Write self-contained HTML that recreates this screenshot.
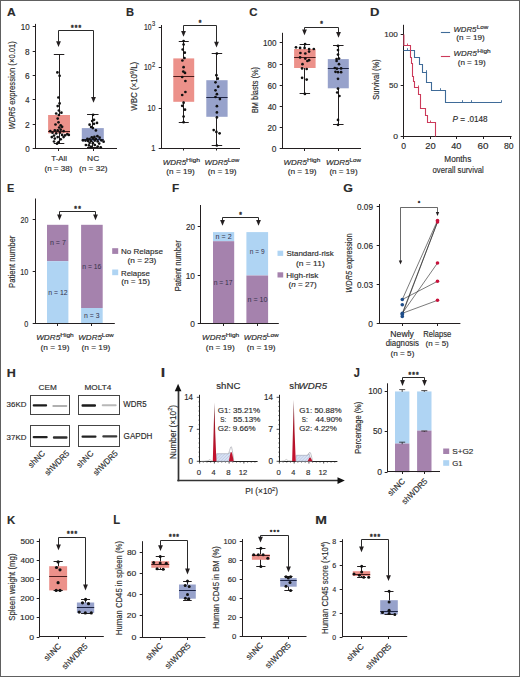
<!DOCTYPE html><html><head><meta charset="utf-8"><style>html,body{margin:0;padding:0;background:#fff;}svg{display:block;font-family:"Liberation Sans",sans-serif;}text{fill:#2b2b2b;stroke:#2b2b2b;stroke-width:0.15px;}.i{font-style:italic;}</style></head><body>
<svg width="520" height="677" viewBox="0 0 520 677">
<rect x="0.5" y="0.5" width="519" height="676" fill="#fff" stroke="#606060" stroke-width="1"/>
<text x="6.9" y="15.8" font-size="11.19" font-weight="bold" textLength="8.72" lengthAdjust="spacingAndGlyphs">A</text>
<line x1="35.5" y1="23.9" x2="35.5" y2="149" stroke="#231f20" stroke-width="1"/>
<line x1="32.7" y1="148.5" x2="35.5" y2="148.5" stroke="#231f20" stroke-width="1"/>
<text x="25.14" y="151.51" font-size="8.5" textLength="4.48" lengthAdjust="spacingAndGlyphs">0</text>
<line x1="32.7" y1="124.5" x2="35.5" y2="124.5" stroke="#231f20" stroke-width="1"/>
<text x="25.02" y="127.51" font-size="8.5" textLength="4.7" lengthAdjust="spacingAndGlyphs">2</text>
<line x1="32.7" y1="99.5" x2="35.5" y2="99.5" stroke="#231f20" stroke-width="1"/>
<text x="25.27" y="102.51" font-size="8.5" textLength="4.25" lengthAdjust="spacingAndGlyphs">4</text>
<line x1="32.7" y1="75.5" x2="35.5" y2="75.5" stroke="#231f20" stroke-width="1"/>
<text x="25.03" y="78.51" font-size="8.5" textLength="4.64" lengthAdjust="spacingAndGlyphs">6</text>
<line x1="32.7" y1="51.5" x2="35.5" y2="51.5" stroke="#231f20" stroke-width="1"/>
<text x="25.09" y="54.51" font-size="8.5" textLength="4.56" lengthAdjust="spacingAndGlyphs">8</text>
<line x1="32.7" y1="26.5" x2="35.5" y2="26.5" stroke="#231f20" stroke-width="1"/>
<text x="20.69" y="29.51" font-size="8.5" textLength="8.92" lengthAdjust="spacingAndGlyphs">10</text>
<line x1="35" y1="148.5" x2="117" y2="148.5" stroke="#231f20" stroke-width="1"/>
<line x1="58.5" y1="148.5" x2="58.5" y2="151" stroke="#231f20" stroke-width="1"/>
<line x1="93.5" y1="148.5" x2="93.5" y2="151" stroke="#231f20" stroke-width="1"/>
<line x1="59.5" y1="54.1" x2="59.5" y2="143.3" stroke="#231f20" stroke-width="1"/>
<rect x="48.1" y="115" width="21.9" height="18.4" fill="#ec918a"/>
<line x1="53.8" y1="54.5" x2="64.3" y2="54.5" stroke="#231f20" stroke-width="1"/>
<line x1="53.8" y1="143.5" x2="64.3" y2="143.5" stroke="#231f20" stroke-width="1"/>
<line x1="48.1" y1="131.5" x2="70" y2="131.5" stroke="#4a1c1c" stroke-width="1"/>
<circle cx="57.4" cy="72.4" r="1.35" fill="#111"/>
<circle cx="59.6" cy="75.8" r="1.35" fill="#111"/>
<circle cx="58.4" cy="97.5" r="1.35" fill="#111"/>
<circle cx="59.6" cy="103.4" r="1.35" fill="#111"/>
<circle cx="57.7" cy="106.1" r="1.35" fill="#111"/>
<circle cx="58.9" cy="110.5" r="1.35" fill="#111"/>
<circle cx="56.2" cy="113.5" r="1.35" fill="#111"/>
<circle cx="61.4" cy="112.7" r="1.35" fill="#111"/>
<circle cx="58.9" cy="115" r="1.35" fill="#111"/>
<circle cx="57.7" cy="118.6" r="1.35" fill="#111"/>
<circle cx="58.5" cy="122.3" r="1.35" fill="#111"/>
<circle cx="55.5" cy="124.5" r="1.35" fill="#111"/>
<circle cx="60.7" cy="125.3" r="1.35" fill="#111"/>
<circle cx="59.2" cy="127.5" r="1.35" fill="#111"/>
<circle cx="62.1" cy="126.8" r="1.35" fill="#111"/>
<circle cx="54.8" cy="130.4" r="1.35" fill="#111"/>
<circle cx="50.3" cy="131.2" r="1.35" fill="#111"/>
<circle cx="57.7" cy="130.4" r="1.35" fill="#111"/>
<circle cx="60.7" cy="129.7" r="1.35" fill="#111"/>
<circle cx="63.6" cy="131.2" r="1.35" fill="#111"/>
<circle cx="52.5" cy="132.7" r="1.35" fill="#111"/>
<circle cx="56.2" cy="133.4" r="1.35" fill="#111"/>
<circle cx="59.9" cy="132.7" r="1.35" fill="#111"/>
<circle cx="67.3" cy="134.1" r="1.35" fill="#111"/>
<circle cx="54" cy="135.6" r="1.35" fill="#111"/>
<circle cx="62.1" cy="134.9" r="1.35" fill="#111"/>
<circle cx="65.1" cy="135.3" r="1.35" fill="#111"/>
<circle cx="68.8" cy="134.9" r="1.35" fill="#111"/>
<circle cx="51.8" cy="137.1" r="1.35" fill="#111"/>
<circle cx="57.7" cy="137.1" r="1.35" fill="#111"/>
<circle cx="63.6" cy="137.1" r="1.35" fill="#111"/>
<circle cx="54.8" cy="138.6" r="1.35" fill="#111"/>
<circle cx="60.7" cy="139.3" r="1.35" fill="#111"/>
<circle cx="54" cy="141.5" r="1.35" fill="#111"/>
<circle cx="58.5" cy="142.2" r="1.35" fill="#111"/>
<circle cx="57" cy="143.7" r="1.35" fill="#111"/>
<line x1="92.5" y1="114.8" x2="92.5" y2="147.5" stroke="#231f20" stroke-width="1"/>
<rect x="81.8" y="128.1" width="22" height="13.3" fill="#97a2cb"/>
<line x1="87.05" y1="114.5" x2="98.55" y2="114.5" stroke="#231f20" stroke-width="1"/>
<line x1="87.05" y1="147.5" x2="98.55" y2="147.5" stroke="#231f20" stroke-width="1"/>
<line x1="81.8" y1="139.5" x2="103.8" y2="139.5" stroke="#1c2444" stroke-width="1"/>
<circle cx="93.1" cy="114.8" r="1.35" fill="#111"/>
<circle cx="94" cy="119.8" r="1.35" fill="#111"/>
<circle cx="92.2" cy="121" r="1.35" fill="#111"/>
<circle cx="97" cy="122.9" r="1.35" fill="#111"/>
<circle cx="94" cy="123.8" r="1.35" fill="#111"/>
<circle cx="89.6" cy="124.7" r="1.35" fill="#111"/>
<circle cx="91.1" cy="127" r="1.35" fill="#111"/>
<circle cx="92.9" cy="128.1" r="1.35" fill="#111"/>
<circle cx="95.9" cy="130.4" r="1.35" fill="#111"/>
<circle cx="97.4" cy="136.2" r="1.35" fill="#111"/>
<circle cx="91.8" cy="137.3" r="1.35" fill="#111"/>
<circle cx="94.4" cy="136.9" r="1.35" fill="#111"/>
<circle cx="99.6" cy="137.7" r="1.35" fill="#111"/>
<circle cx="87.4" cy="138.8" r="1.35" fill="#111"/>
<circle cx="89.6" cy="139.1" r="1.35" fill="#111"/>
<circle cx="93.3" cy="138.4" r="1.35" fill="#111"/>
<circle cx="95.9" cy="139" r="1.35" fill="#111"/>
<circle cx="83" cy="140.3" r="1.35" fill="#111"/>
<circle cx="85.5" cy="140.6" r="1.35" fill="#111"/>
<circle cx="88.1" cy="141" r="1.35" fill="#111"/>
<circle cx="91.1" cy="141" r="1.35" fill="#111"/>
<circle cx="94.8" cy="140.6" r="1.35" fill="#111"/>
<circle cx="97.7" cy="141.4" r="1.35" fill="#111"/>
<circle cx="101.4" cy="140.3" r="1.35" fill="#111"/>
<circle cx="103.6" cy="141.7" r="1.35" fill="#111"/>
<circle cx="89.6" cy="142.8" r="1.35" fill="#111"/>
<circle cx="92.9" cy="143.2" r="1.35" fill="#111"/>
<circle cx="99.2" cy="143.6" r="1.35" fill="#111"/>
<circle cx="85.9" cy="145" r="1.35" fill="#111"/>
<circle cx="88.9" cy="145.4" r="1.35" fill="#111"/>
<circle cx="94.8" cy="145" r="1.35" fill="#111"/>
<circle cx="97.7" cy="146.5" r="1.35" fill="#111"/>
<circle cx="91.1" cy="146.9" r="1.35" fill="#111"/>
<circle cx="100.7" cy="147.3" r="1.35" fill="#111"/>
<path d="M58.5 41.7L58.5 30.5L93.5 30.5L93.5 97.5" stroke="#2a2a2a" stroke-width="1" fill="none"/>
<path d="M56.1 41.2L60.9 41.2L58.5 47Z" fill="#231f20"/>
<path d="M91.1 97L95.9 97L93.5 102.8Z" fill="#231f20"/>
<text x="72.25" y="29.61" font-size="6.6" font-weight="bold" text-anchor="middle" style="stroke-width:0.35px">*</text>
<text x="76" y="29.61" font-size="6.6" font-weight="bold" text-anchor="middle" style="stroke-width:0.35px">*</text>
<text x="79.75" y="29.61" font-size="6.6" font-weight="bold" text-anchor="middle" style="stroke-width:0.35px">*</text>
<text transform="translate(15.2 129.53) rotate(-90)" x="0" y="0" font-size="8.6" textLength="88.41" lengthAdjust="spacingAndGlyphs"><tspan font-style="italic">WDR5</tspan> expression (×0.01)</text>
<text x="51.33" y="161" font-size="7.9" textLength="15.68" lengthAdjust="spacingAndGlyphs">T-All</text>
<text x="44.5" y="171.1" font-size="7.9" textLength="27.9" lengthAdjust="spacingAndGlyphs">(n = 38)</text>
<text x="87.11" y="161.2" font-size="7.9" textLength="12.11" lengthAdjust="spacingAndGlyphs">NC</text>
<text x="78.99" y="171" font-size="7.9" textLength="28.62" lengthAdjust="spacingAndGlyphs">(n = 32)</text>
<text x="126.05" y="15.8" font-size="11.19" font-weight="bold" textLength="8.05" lengthAdjust="spacingAndGlyphs">B</text>
<line x1="161.5" y1="25" x2="161.5" y2="148.5" stroke="#231f20" stroke-width="1"/>
<line x1="158.7" y1="148.5" x2="161.5" y2="148.5" stroke="#231f20" stroke-width="1"/>
<line x1="158.7" y1="108.5" x2="161.5" y2="108.5" stroke="#231f20" stroke-width="1"/>
<line x1="158.7" y1="67.5" x2="161.5" y2="67.5" stroke="#231f20" stroke-width="1"/>
<line x1="158.7" y1="27.5" x2="161.5" y2="27.5" stroke="#231f20" stroke-width="1"/>
<text x="155.4" y="151.3" font-size="8.4" text-anchor="end" textLength="4.15" lengthAdjust="spacingAndGlyphs">1</text>
<text x="155.4" y="111" font-size="8.4" text-anchor="end" textLength="8" lengthAdjust="spacingAndGlyphs">10</text>
<text x="151.5" y="70.3" font-size="8.4" text-anchor="end" textLength="7.6" lengthAdjust="spacingAndGlyphs">10</text>
<text x="155.2" y="66.7" font-size="6.3" text-anchor="end" textLength="3.2" lengthAdjust="spacingAndGlyphs">2</text>
<text x="151.5" y="30" font-size="8.4" text-anchor="end" textLength="7.6" lengthAdjust="spacingAndGlyphs">10</text>
<text x="155.2" y="26.4" font-size="6.3" text-anchor="end" textLength="3.2" lengthAdjust="spacingAndGlyphs">3</text>
<line x1="161" y1="148.5" x2="240" y2="148.5" stroke="#231f20" stroke-width="1"/>
<line x1="183.5" y1="148" x2="183.5" y2="150.5" stroke="#231f20" stroke-width="1"/>
<line x1="216.5" y1="148" x2="216.5" y2="150.5" stroke="#231f20" stroke-width="1"/>
<line x1="183.5" y1="41" x2="183.5" y2="122.2" stroke="#231f20" stroke-width="1"/>
<rect x="173.3" y="58.4" width="20.9" height="43.4" fill="#ec918a"/>
<line x1="178.75" y1="41.5" x2="188.75" y2="41.5" stroke="#231f20" stroke-width="1"/>
<line x1="178.75" y1="122.5" x2="188.75" y2="122.5" stroke="#231f20" stroke-width="1"/>
<line x1="173.3" y1="76.5" x2="194.2" y2="76.5" stroke="#4a1c1c" stroke-width="1"/>
<circle cx="183.6" cy="41" r="1.35" fill="#111"/>
<circle cx="183.6" cy="44.5" r="1.35" fill="#111"/>
<circle cx="182.7" cy="49.5" r="1.35" fill="#111"/>
<circle cx="184.8" cy="52.7" r="1.35" fill="#111"/>
<circle cx="184.5" cy="58" r="1.35" fill="#111"/>
<circle cx="182.4" cy="60.5" r="1.35" fill="#111"/>
<circle cx="183.6" cy="67.2" r="1.35" fill="#111"/>
<circle cx="183.3" cy="71.6" r="1.35" fill="#111"/>
<circle cx="185" cy="72.9" r="1.35" fill="#111"/>
<circle cx="182.2" cy="77" r="1.35" fill="#111"/>
<circle cx="185.4" cy="81" r="1.35" fill="#111"/>
<circle cx="185.4" cy="92" r="1.35" fill="#111"/>
<circle cx="182.2" cy="95" r="1.35" fill="#111"/>
<circle cx="183.6" cy="102.7" r="1.35" fill="#111"/>
<circle cx="182.2" cy="105.8" r="1.35" fill="#111"/>
<circle cx="185" cy="109.7" r="1.35" fill="#111"/>
<circle cx="183.6" cy="116.5" r="1.35" fill="#111"/>
<circle cx="183.6" cy="122.2" r="1.35" fill="#111"/>
<line x1="216.5" y1="53.6" x2="216.5" y2="145.5" stroke="#231f20" stroke-width="1"/>
<rect x="206.3" y="80.2" width="21.3" height="36.6" fill="#97a2cb"/>
<line x1="211.7" y1="53.5" x2="222.2" y2="53.5" stroke="#231f20" stroke-width="1"/>
<line x1="211.7" y1="145.5" x2="222.2" y2="145.5" stroke="#231f20" stroke-width="1"/>
<line x1="206.3" y1="97.5" x2="227.6" y2="97.5" stroke="#1c2444" stroke-width="1"/>
<circle cx="216.9" cy="53.6" r="1.35" fill="#111"/>
<circle cx="216.4" cy="75.2" r="1.35" fill="#111"/>
<circle cx="217.8" cy="78.7" r="1.35" fill="#111"/>
<circle cx="215.5" cy="82.3" r="1.35" fill="#111"/>
<circle cx="218.2" cy="86.7" r="1.35" fill="#111"/>
<circle cx="215.5" cy="90.3" r="1.35" fill="#111"/>
<circle cx="216.9" cy="94.2" r="1.35" fill="#111"/>
<circle cx="215.5" cy="97" r="1.35" fill="#111"/>
<circle cx="219.9" cy="99.1" r="1.35" fill="#111"/>
<circle cx="216.9" cy="106.2" r="1.35" fill="#111"/>
<circle cx="216.9" cy="112.4" r="1.35" fill="#111"/>
<circle cx="216.9" cy="117.4" r="1.35" fill="#111"/>
<circle cx="213.7" cy="130.1" r="1.35" fill="#111"/>
<circle cx="216.4" cy="131.9" r="1.35" fill="#111"/>
<circle cx="219.6" cy="133.3" r="1.35" fill="#111"/>
<circle cx="216.9" cy="145.5" r="1.35" fill="#111"/>
<path d="M183.5 31.4L183.5 25.5L216.5 25.5L216.5 42.2" stroke="#2a2a2a" stroke-width="1" fill="none"/>
<path d="M181.1 30.9L185.9 30.9L183.5 36.7Z" fill="#231f20"/>
<path d="M214.1 41.7L218.9 41.7L216.5 47.5Z" fill="#231f20"/>
<text x="200" y="24.61" font-size="6.6" font-weight="bold" text-anchor="middle" style="stroke-width:0.35px">*</text>
<text transform="translate(137.4 110.83) rotate(-90)" x="0" y="0" font-size="9" textLength="49.11" lengthAdjust="spacingAndGlyphs">WBC (×10<tspan dy="-3.2" font-size="6">9</tspan><tspan dy="3.2">/L)</tspan></text>
<text x="162.71" y="165" font-size="8" font-style="italic" textLength="23.47" lengthAdjust="spacingAndGlyphs">WDR5</text>
<text x="186.14" y="161.7" font-size="5.3" textLength="14" lengthAdjust="spacingAndGlyphs">High</text>
<text x="166.39" y="174.3" font-size="7.6" textLength="28.31" lengthAdjust="spacingAndGlyphs">(n = 19)</text>
<text x="204.62" y="165" font-size="8" font-style="italic" textLength="23.26" lengthAdjust="spacingAndGlyphs">WDR5</text>
<text x="227.89" y="161.7" font-size="5.3" textLength="11.5" lengthAdjust="spacingAndGlyphs">Low</text>
<text x="207.68" y="174.2" font-size="7.6" textLength="28.93" lengthAdjust="spacingAndGlyphs">(n = 19)</text>
<text x="249.33" y="15.8" font-size="11.19" font-weight="bold" textLength="8.28" lengthAdjust="spacingAndGlyphs">C</text>
<line x1="282.5" y1="32.8" x2="282.5" y2="149" stroke="#231f20" stroke-width="1"/>
<line x1="279.7" y1="148.5" x2="282.5" y2="148.5" stroke="#231f20" stroke-width="1"/>
<text x="271.87" y="151.51" font-size="8.5" textLength="4.65" lengthAdjust="spacingAndGlyphs">0</text>
<line x1="279.7" y1="127.5" x2="282.5" y2="127.5" stroke="#231f20" stroke-width="1"/>
<text x="267.49" y="130.51" font-size="8.5" textLength="9.03" lengthAdjust="spacingAndGlyphs">20</text>
<line x1="279.7" y1="106.5" x2="282.5" y2="106.5" stroke="#231f20" stroke-width="1"/>
<text x="267.72" y="109.51" font-size="8.5" textLength="8.79" lengthAdjust="spacingAndGlyphs">40</text>
<line x1="279.7" y1="85.5" x2="282.5" y2="85.5" stroke="#231f20" stroke-width="1"/>
<text x="267.49" y="88.51" font-size="8.5" textLength="9.03" lengthAdjust="spacingAndGlyphs">60</text>
<line x1="279.7" y1="64.5" x2="282.5" y2="64.5" stroke="#231f20" stroke-width="1"/>
<text x="267.55" y="67.51" font-size="8.5" textLength="8.97" lengthAdjust="spacingAndGlyphs">80</text>
<line x1="279.7" y1="42.5" x2="282.5" y2="42.5" stroke="#231f20" stroke-width="1"/>
<text x="262.98" y="45.51" font-size="8.5" textLength="13.53" lengthAdjust="spacingAndGlyphs">100</text>
<line x1="282" y1="148.5" x2="361" y2="148.5" stroke="#231f20" stroke-width="1"/>
<line x1="304.5" y1="148.5" x2="304.5" y2="151" stroke="#231f20" stroke-width="1"/>
<line x1="338.5" y1="148.5" x2="338.5" y2="151" stroke="#231f20" stroke-width="1"/>
<line x1="304.5" y1="44.1" x2="304.5" y2="93.9" stroke="#231f20" stroke-width="1"/>
<rect x="294.1" y="49" width="21.5" height="19" fill="#ec918a"/>
<line x1="299.6" y1="44.5" x2="310.1" y2="44.5" stroke="#231f20" stroke-width="1"/>
<line x1="299.6" y1="93.5" x2="310.1" y2="93.5" stroke="#231f20" stroke-width="1"/>
<line x1="294.1" y1="57.5" x2="315.6" y2="57.5" stroke="#4a1c1c" stroke-width="1"/>
<circle cx="296" cy="47.3" r="1.35" fill="#111"/>
<circle cx="300.1" cy="47.9" r="1.35" fill="#111"/>
<circle cx="304.6" cy="47.9" r="1.35" fill="#111"/>
<circle cx="309.1" cy="49" r="1.35" fill="#111"/>
<circle cx="313.8" cy="49" r="1.35" fill="#111"/>
<circle cx="305.1" cy="44.1" r="1.35" fill="#111"/>
<circle cx="300.4" cy="53" r="1.35" fill="#111"/>
<circle cx="305.3" cy="53.5" r="1.35" fill="#111"/>
<circle cx="309.1" cy="51.6" r="1.35" fill="#111"/>
<circle cx="300.1" cy="57.4" r="1.35" fill="#111"/>
<circle cx="305.3" cy="58.6" r="1.35" fill="#111"/>
<circle cx="307.4" cy="61" r="1.35" fill="#111"/>
<circle cx="309.1" cy="60.2" r="1.35" fill="#111"/>
<circle cx="302.5" cy="64.2" r="1.35" fill="#111"/>
<circle cx="302.1" cy="68.4" r="1.35" fill="#111"/>
<circle cx="306.7" cy="69" r="1.35" fill="#111"/>
<circle cx="302.1" cy="77.8" r="1.35" fill="#111"/>
<circle cx="306.7" cy="79.6" r="1.35" fill="#111"/>
<circle cx="304.9" cy="93.9" r="1.35" fill="#111"/>
<line x1="338.5" y1="45.9" x2="338.5" y2="124.8" stroke="#231f20" stroke-width="1"/>
<rect x="327.8" y="59.1" width="21" height="29.2" fill="#97a2cb"/>
<line x1="333.05" y1="45.5" x2="343.55" y2="45.5" stroke="#231f20" stroke-width="1"/>
<line x1="333.05" y1="124.5" x2="343.55" y2="124.5" stroke="#231f20" stroke-width="1"/>
<line x1="327.8" y1="68.5" x2="348.8" y2="68.5" stroke="#1c2444" stroke-width="1"/>
<circle cx="338" cy="45.9" r="1.35" fill="#111"/>
<circle cx="338" cy="50.1" r="1.35" fill="#111"/>
<circle cx="338" cy="54.6" r="1.35" fill="#111"/>
<circle cx="336.6" cy="59.1" r="1.35" fill="#111"/>
<circle cx="339" cy="58.6" r="1.35" fill="#111"/>
<circle cx="336.6" cy="61" r="1.35" fill="#111"/>
<circle cx="339" cy="64.2" r="1.35" fill="#111"/>
<circle cx="334.8" cy="68" r="1.35" fill="#111"/>
<circle cx="336.9" cy="68.7" r="1.35" fill="#111"/>
<circle cx="341.1" cy="68.4" r="1.35" fill="#111"/>
<circle cx="335.5" cy="71.8" r="1.35" fill="#111"/>
<circle cx="338" cy="72.2" r="1.35" fill="#111"/>
<circle cx="341.1" cy="72.2" r="1.35" fill="#111"/>
<circle cx="338" cy="78.8" r="1.35" fill="#111"/>
<circle cx="338" cy="88.6" r="1.35" fill="#111"/>
<circle cx="337.2" cy="92.5" r="1.35" fill="#111"/>
<circle cx="339.4" cy="96" r="1.35" fill="#111"/>
<circle cx="338" cy="119.9" r="1.35" fill="#111"/>
<circle cx="338" cy="124.8" r="1.35" fill="#111"/>
<path d="M304.5 29.9L304.5 27.5L338.5 27.5L338.5 32.5" stroke="#2a2a2a" stroke-width="1" fill="none"/>
<path d="M302.1 29.4L306.9 29.4L304.5 35.2Z" fill="#231f20"/>
<path d="M336.1 32L340.9 32L338.5 37.8Z" fill="#231f20"/>
<text x="321.5" y="26.21" font-size="6.6" font-weight="bold" text-anchor="middle" style="stroke-width:0.35px">*</text>
<text transform="translate(258.2 113.11) rotate(-90)" x="0" y="0" font-size="9.2" textLength="46.07" lengthAdjust="spacingAndGlyphs">BM blasts (%)</text>
<text x="283.41" y="165" font-size="8" font-style="italic" textLength="23.57" lengthAdjust="spacingAndGlyphs">WDR5</text>
<text x="306.96" y="161.7" font-size="5.3" textLength="13.46" lengthAdjust="spacingAndGlyphs">High</text>
<text x="287.69" y="174.2" font-size="7.6" textLength="28.83" lengthAdjust="spacingAndGlyphs">(n = 19)</text>
<text x="325.91" y="165" font-size="8" font-style="italic" textLength="23.57" lengthAdjust="spacingAndGlyphs">WDR5</text>
<text x="349.49" y="161.7" font-size="5.3" textLength="11.39" lengthAdjust="spacingAndGlyphs">Low</text>
<text x="329.4" y="174.2" font-size="7.6" textLength="28.21" lengthAdjust="spacingAndGlyphs">(n = 19)</text>
<text x="370.13" y="15.8" font-size="11.19" font-weight="bold" textLength="9.42" lengthAdjust="spacingAndGlyphs">D</text>
<line x1="403.5" y1="24.8" x2="403.5" y2="137" stroke="#231f20" stroke-width="1"/>
<line x1="400.7" y1="136.5" x2="403.5" y2="136.5" stroke="#231f20" stroke-width="1"/>
<line x1="400.7" y1="85.5" x2="403.5" y2="85.5" stroke="#231f20" stroke-width="1"/>
<line x1="400.7" y1="34.5" x2="403.5" y2="34.5" stroke="#231f20" stroke-width="1"/>
<line x1="403" y1="136.5" x2="511.6" y2="136.5" stroke="#231f20" stroke-width="1"/>
<line x1="403.5" y1="136.5" x2="403.5" y2="139" stroke="#231f20" stroke-width="1"/>
<line x1="430.5" y1="136.5" x2="430.5" y2="139" stroke="#231f20" stroke-width="1"/>
<line x1="456.5" y1="136.5" x2="456.5" y2="139" stroke="#231f20" stroke-width="1"/>
<line x1="483.5" y1="136.5" x2="483.5" y2="139" stroke="#231f20" stroke-width="1"/>
<line x1="510.5" y1="136.5" x2="510.5" y2="139" stroke="#231f20" stroke-width="1"/>
<text x="401.36" y="149.2" font-size="8.4" textLength="4.77" lengthAdjust="spacingAndGlyphs">0</text>
<text x="425.33" y="149.2" font-size="8.4" textLength="10.44" lengthAdjust="spacingAndGlyphs">20</text>
<text x="451.29" y="149.2" font-size="8.4" textLength="10.17" lengthAdjust="spacingAndGlyphs">40</text>
<text x="477.4" y="149.2" font-size="8.4" textLength="10.99" lengthAdjust="spacingAndGlyphs">60</text>
<text x="504.02" y="149.2" font-size="8.4" textLength="9.61" lengthAdjust="spacingAndGlyphs">80</text>
<path d="M403.5 50.5 H414.5 V57.5 H419.5 V64.5 H422.5 V72.5 H426.5 V82.5 H431.5 V90.5 H445.5 V102.5 H501.5" stroke="#3f6b98" stroke-width="1.1" fill="none"/>
<path d="M403.9 34.5 V45.5 H410.5 V57.5 H411.5 V63.5 H412.5 V76.5 H413.5 V81.5 H414.5 V87.5 H418.5 V94.5 H420.5 V108.5 H425.5 V115.5 H427.5 V122.5 H435.5 V136.5" stroke="#cc3a5a" stroke-width="1.1" fill="none"/>
<line x1="407.5" y1="48.2" x2="407.5" y2="50.5" stroke="#3f6b98" stroke-width="0.9"/>
<line x1="426.5" y1="70.2" x2="426.5" y2="72.5" stroke="#3f6b98" stroke-width="0.9"/>
<line x1="440.5" y1="88.2" x2="440.5" y2="90.5" stroke="#3f6b98" stroke-width="0.9"/>
<line x1="462.5" y1="100.2" x2="462.5" y2="102.5" stroke="#3f6b98" stroke-width="0.9"/>
<line x1="471.5" y1="100.2" x2="471.5" y2="102.5" stroke="#3f6b98" stroke-width="0.9"/>
<line x1="501.5" y1="100.2" x2="501.5" y2="102.5" stroke="#3f6b98" stroke-width="0.9"/>
<line x1="407.5" y1="43.5" x2="407.5" y2="45.5" stroke="#cc3a5a" stroke-width="0.9"/>
<line x1="418.5" y1="85.5" x2="418.5" y2="87.5" stroke="#cc3a5a" stroke-width="0.9"/>
<line x1="430.5" y1="120.5" x2="430.5" y2="122.5" stroke="#cc3a5a" stroke-width="0.9"/>
<line x1="440.9" y1="32.5" x2="450.1" y2="32.5" stroke="#3f6b98" stroke-width="1.1"/>
<line x1="440.9" y1="56.5" x2="450.1" y2="56.5" stroke="#cc3a5a" stroke-width="1.1"/>
<text x="453.53" y="31.7" font-size="8" font-style="italic" textLength="22.85" lengthAdjust="spacingAndGlyphs">WDR5</text>
<text x="476.89" y="28.6" font-size="5.2" textLength="11.5" lengthAdjust="spacingAndGlyphs">Low</text>
<text x="456.39" y="40.1" font-size="7.4" textLength="28.31" lengthAdjust="spacingAndGlyphs">(n = 19)</text>
<text x="453.52" y="56.3" font-size="8" font-style="italic" textLength="23.26" lengthAdjust="spacingAndGlyphs">WDR5</text>
<text x="477.27" y="53.2" font-size="5.2" textLength="13.35" lengthAdjust="spacingAndGlyphs">High</text>
<text x="457.7" y="65.2" font-size="7.4" textLength="28.1" lengthAdjust="spacingAndGlyphs">(n = 19)</text>
<text x="452.53" y="122.4" font-size="8.8" textLength="35.12" lengthAdjust="spacingAndGlyphs"><tspan font-style="italic">P</tspan> = .0148</text>
<text x="444.33" y="162.1" font-size="9" textLength="26.97" lengthAdjust="spacingAndGlyphs">Months</text>
<text x="432.57" y="173.1" font-size="9.2" textLength="51.24" lengthAdjust="spacingAndGlyphs">overall survival</text>
<text transform="translate(378.6 99.74) rotate(-90)" x="0" y="0" font-size="9" textLength="40.41" lengthAdjust="spacingAndGlyphs">Survival (%)</text>
<text x="393.16" y="138.9" font-size="8" textLength="4.77" lengthAdjust="spacingAndGlyphs">0</text>
<text x="388.98" y="87.9" font-size="8" textLength="8.94" lengthAdjust="spacingAndGlyphs">50</text>
<text x="384.28" y="36.9" font-size="8" textLength="13.64" lengthAdjust="spacingAndGlyphs">100</text>
<text x="6.92" y="191.9" font-size="11.63" font-weight="bold" textLength="7.31" lengthAdjust="spacingAndGlyphs">E</text>
<line x1="35.5" y1="198.5" x2="35.5" y2="324" stroke="#231f20" stroke-width="1"/>
<line x1="32.7" y1="323.5" x2="35.5" y2="323.5" stroke="#231f20" stroke-width="1"/>
<text x="24.37" y="326.51" font-size="8.5" textLength="4.01" lengthAdjust="spacingAndGlyphs">0</text>
<line x1="32.7" y1="271.5" x2="35.5" y2="271.5" stroke="#231f20" stroke-width="1"/>
<text x="20.35" y="274.51" font-size="8.5" textLength="8.03" lengthAdjust="spacingAndGlyphs">10</text>
<line x1="32.7" y1="219.5" x2="35.5" y2="219.5" stroke="#231f20" stroke-width="1"/>
<text x="20.55" y="222.51" font-size="8.5" textLength="7.83" lengthAdjust="spacingAndGlyphs">20</text>
<rect x="47" y="224.8" width="21.4" height="36.4" fill="#a582ad"/>
<rect x="47" y="261.2" width="21.4" height="62.4" fill="#afd4f3"/>
<rect x="81.1" y="224.8" width="21.6" height="83.2" fill="#a582ad"/>
<rect x="81.1" y="308" width="21.6" height="15.6" fill="#afd4f3"/>
<line x1="35" y1="323.5" x2="114.8" y2="323.5" stroke="#231f20" stroke-width="1"/>
<line x1="57.5" y1="323.5" x2="57.5" y2="326" stroke="#231f20" stroke-width="1"/>
<line x1="91.5" y1="323.5" x2="91.5" y2="326" stroke="#231f20" stroke-width="1"/>
<text x="49.93" y="245.2" font-size="6.8" textLength="15.93" lengthAdjust="spacingAndGlyphs" style="fill:#34304a;stroke:none">n = 7</text>
<text x="48.24" y="294.9" font-size="6.8" textLength="19.3" lengthAdjust="spacingAndGlyphs" style="fill:#34304a;stroke:none">n = 12</text>
<text x="82.35" y="268.9" font-size="6.8" textLength="18.94" lengthAdjust="spacingAndGlyphs" style="fill:#34304a;stroke:none">n = 16</text>
<text x="84.04" y="317.7" font-size="6.8" textLength="15.46" lengthAdjust="spacingAndGlyphs" style="fill:#34304a;stroke:none">n = 3</text>
<path d="M59.5 215L59.5 211.5L95.5 211.5L95.5 215" stroke="#2a2a2a" stroke-width="1" fill="none"/>
<path d="M57.1 214.5L61.9 214.5L59.5 220.3Z" fill="#231f20"/>
<path d="M93.1 214.5L97.9 214.5L95.5 220.3Z" fill="#231f20"/>
<text x="75.5" y="211.31" font-size="6.6" font-weight="bold" text-anchor="middle" style="stroke-width:0.35px">*</text>
<text x="79.5" y="211.31" font-size="6.6" font-weight="bold" text-anchor="middle" style="stroke-width:0.35px">*</text>
<rect x="112.2" y="248.2" width="6" height="5.7" fill="#a582ad"/>
<rect x="112.2" y="269.5" width="6" height="5.7" fill="#afd4f3"/>
<text x="121.04" y="253.9" font-size="8" textLength="42.02" lengthAdjust="spacingAndGlyphs">No Relapse</text>
<text x="127.49" y="262.6" font-size="7.6" textLength="28.83" lengthAdjust="spacingAndGlyphs">(n = 23)</text>
<text x="121.06" y="275.5" font-size="8" textLength="28.69" lengthAdjust="spacingAndGlyphs">Relapse</text>
<text x="121.19" y="284.4" font-size="7.6" textLength="28.73" lengthAdjust="spacingAndGlyphs">(n = 15)</text>
<text transform="translate(14.8 287.93) rotate(-90)" x="0" y="0" font-size="8.6" textLength="52.26" lengthAdjust="spacingAndGlyphs">Patient number</text>
<text x="36.2" y="340.2" font-size="8" font-style="italic" textLength="23.98" lengthAdjust="spacingAndGlyphs">WDR5</text>
<text x="60.16" y="336.9" font-size="5.3" textLength="13.57" lengthAdjust="spacingAndGlyphs">High</text>
<text x="40.59" y="350" font-size="7.6" textLength="28.83" lengthAdjust="spacingAndGlyphs">(n = 19)</text>
<text x="78.31" y="340.2" font-size="8" font-style="italic" textLength="23.57" lengthAdjust="spacingAndGlyphs">WDR5</text>
<text x="101.87" y="336.9" font-size="5.3" textLength="11.81" lengthAdjust="spacingAndGlyphs">Low</text>
<text x="81.49" y="350" font-size="7.6" textLength="28.83" lengthAdjust="spacingAndGlyphs">(n = 19)</text>
<text x="172.01" y="192" font-size="11.77" font-weight="bold" textLength="7.22" lengthAdjust="spacingAndGlyphs">F</text>
<line x1="200.5" y1="205" x2="200.5" y2="324" stroke="#231f20" stroke-width="1"/>
<line x1="197.7" y1="323.5" x2="200.5" y2="323.5" stroke="#231f20" stroke-width="1"/>
<text x="190.27" y="326.51" font-size="8.5" textLength="4.65" lengthAdjust="spacingAndGlyphs">0</text>
<line x1="197.7" y1="275.5" x2="200.5" y2="275.5" stroke="#231f20" stroke-width="1"/>
<text x="185.67" y="278.51" font-size="8.5" textLength="9.26" lengthAdjust="spacingAndGlyphs">10</text>
<line x1="197.7" y1="226.5" x2="200.5" y2="226.5" stroke="#231f20" stroke-width="1"/>
<text x="185.89" y="229.51" font-size="8.5" textLength="9.03" lengthAdjust="spacingAndGlyphs">20</text>
<rect x="213" y="232.1" width="21.2" height="9.1" fill="#afd4f3"/>
<rect x="213" y="241.2" width="21.2" height="82.3" fill="#a582ad"/>
<rect x="246.4" y="232.1" width="21.7" height="43.4" fill="#afd4f3"/>
<rect x="246.4" y="275.5" width="21.7" height="48" fill="#a582ad"/>
<line x1="200" y1="323.5" x2="278.8" y2="323.5" stroke="#231f20" stroke-width="1"/>
<line x1="223.5" y1="323.5" x2="223.5" y2="326" stroke="#231f20" stroke-width="1"/>
<line x1="257.5" y1="323.5" x2="257.5" y2="326" stroke="#231f20" stroke-width="1"/>
<text x="215.63" y="238.9" font-size="6.8" textLength="16.03" lengthAdjust="spacingAndGlyphs" style="fill:#34304a;stroke:none">n = 2</text>
<text x="213.65" y="284.6" font-size="6.8" textLength="18.88" lengthAdjust="spacingAndGlyphs" style="fill:#34304a;stroke:none">n = 17</text>
<text x="249.76" y="253.6" font-size="6.8" textLength="14.85" lengthAdjust="spacingAndGlyphs" style="fill:#34304a;stroke:none">n = 9</text>
<text x="247.53" y="301.5" font-size="6.8" textLength="20.05" lengthAdjust="spacingAndGlyphs" style="fill:#34304a;stroke:none">n = 10</text>
<path d="M222.5 220.5L222.5 217.5L258.5 217.5L258.5 220.5" stroke="#2a2a2a" stroke-width="1" fill="none"/>
<path d="M220.1 220L224.9 220L222.5 225.8Z" fill="#231f20"/>
<path d="M256.1 220L260.9 220L258.5 225.8Z" fill="#231f20"/>
<text x="240.5" y="216.51" font-size="6.6" font-weight="bold" text-anchor="middle" style="stroke-width:0.35px">*</text>
<rect x="277.5" y="250.7" width="5.7" height="5.2" fill="#afd4f3"/>
<rect x="277.5" y="272.3" width="5.7" height="5.2" fill="#a582ad"/>
<text x="286.54" y="256.1" font-size="8" textLength="47.25" lengthAdjust="spacingAndGlyphs">Standard-risk</text>
<text x="295.99" y="265.7" font-size="7.6" textLength="28.73" lengthAdjust="spacingAndGlyphs">(n = 11)</text>
<text x="286.23" y="277.6" font-size="8" textLength="32.16" lengthAdjust="spacingAndGlyphs">High-risk</text>
<text x="288.5" y="287.3" font-size="7.6" textLength="28.1" lengthAdjust="spacingAndGlyphs">(<tspan font-style="italic">n</tspan> = 27)</text>
<text transform="translate(180.5 291.21) rotate(-90)" x="0" y="0" font-size="8.6" textLength="50.84" lengthAdjust="spacingAndGlyphs">Patient number</text>
<text x="202.11" y="339.9" font-size="8" font-style="italic" textLength="23.57" lengthAdjust="spacingAndGlyphs">WDR5</text>
<text x="225.66" y="336.6" font-size="5.3" textLength="13.57" lengthAdjust="spacingAndGlyphs">High</text>
<text x="205.89" y="349.7" font-size="7.6" textLength="28.83" lengthAdjust="spacingAndGlyphs">(n = 19)</text>
<text x="243.72" y="339.9" font-size="8" font-style="italic" textLength="23.16" lengthAdjust="spacingAndGlyphs">WDR5</text>
<text x="266.87" y="336.6" font-size="5.3" textLength="11.81" lengthAdjust="spacingAndGlyphs">Low</text>
<text x="246.79" y="349.7" font-size="7.6" textLength="28.83" lengthAdjust="spacingAndGlyphs">(n = 19)</text>
<text x="343.39" y="191.9" font-size="11.19" font-weight="bold" textLength="9.68" lengthAdjust="spacingAndGlyphs">G</text>
<line x1="379.5" y1="204" x2="379.5" y2="324" stroke="#231f20" stroke-width="1"/>
<line x1="376.7" y1="323.5" x2="379.5" y2="323.5" stroke="#231f20" stroke-width="1"/>
<text x="368.27" y="326.55" font-size="8.6" textLength="4.65" lengthAdjust="spacingAndGlyphs">0</text>
<line x1="376.7" y1="284.5" x2="379.5" y2="284.5" stroke="#231f20" stroke-width="1"/>
<text x="356.98" y="287.55" font-size="8.6" textLength="15.98" lengthAdjust="spacingAndGlyphs">0.03</text>
<line x1="376.7" y1="245.5" x2="379.5" y2="245.5" stroke="#231f20" stroke-width="1"/>
<text x="356.98" y="248.55" font-size="8.6" textLength="15.98" lengthAdjust="spacingAndGlyphs">0.06</text>
<line x1="376.7" y1="206.5" x2="379.5" y2="206.5" stroke="#231f20" stroke-width="1"/>
<text x="356.98" y="209.55" font-size="8.6" textLength="16.01" lengthAdjust="spacingAndGlyphs">0.09</text>
<line x1="379" y1="323.5" x2="460.4" y2="323.5" stroke="#231f20" stroke-width="1"/>
<line x1="402.5" y1="323.5" x2="402.5" y2="326" stroke="#231f20" stroke-width="1"/>
<line x1="437.5" y1="323.5" x2="437.5" y2="326" stroke="#231f20" stroke-width="1"/>
<path d="M400.5 261.1L400.5 207.5L437.5 207.5L437.5 212.5" stroke="#2a2a2a" stroke-width="0.7" fill="none"/>
<path d="M398.8 260.6L402.2 260.6L400.5 264.6Z" fill="#231f20"/>
<path d="M435.8 212L439.2 212L437.5 216Z" fill="#231f20"/>
<text x="419" y="205.42" font-size="5.22" font-weight="bold" text-anchor="middle" style="stroke-width:0.35px">*</text>
<line x1="402.3" y1="299.5" x2="437.5" y2="220.5" stroke="#222" stroke-width="0.6"/>
<line x1="402.3" y1="299.5" x2="437.5" y2="281.3" stroke="#222" stroke-width="0.6"/>
<line x1="402.3" y1="313.3" x2="437.5" y2="222" stroke="#222" stroke-width="0.6"/>
<line x1="402.3" y1="314.5" x2="437.5" y2="222" stroke="#222" stroke-width="0.6"/>
<line x1="402.3" y1="313.3" x2="437.5" y2="263" stroke="#222" stroke-width="0.6"/>
<line x1="402.3" y1="313.3" x2="437.5" y2="300.3" stroke="#222" stroke-width="0.6"/>
<circle cx="402.3" cy="299.5" r="1.8" fill="#1f4e8a"/>
<circle cx="402.3" cy="304.8" r="1.8" fill="#1f4e8a"/>
<circle cx="402.3" cy="313.3" r="1.8" fill="#1f4e8a"/>
<circle cx="402.3" cy="314.5" r="1.8" fill="#1f4e8a"/>
<circle cx="402.3" cy="316.5" r="1.8" fill="#1f4e8a"/>
<circle cx="437.5" cy="220.5" r="1.8" fill="#c8123c"/>
<circle cx="437.5" cy="222" r="1.8" fill="#c8123c"/>
<circle cx="437.5" cy="263" r="1.8" fill="#c8123c"/>
<circle cx="437.5" cy="281.3" r="1.8" fill="#c8123c"/>
<circle cx="437.5" cy="300.3" r="1.8" fill="#c8123c"/>
<text transform="translate(351.5 292.63) rotate(-90)" x="0" y="0" font-size="8.6" textLength="59.31" lengthAdjust="spacingAndGlyphs"><tspan font-style="italic">WDR5</tspan> expression</text>
<text x="390.39" y="337" font-size="8.2" textLength="23.53" lengthAdjust="spacingAndGlyphs">Newly</text>
<text x="385.77" y="345.6" font-size="8.2" textLength="33.11" lengthAdjust="spacingAndGlyphs">diagnosis</text>
<text x="390.59" y="355.6" font-size="7.8" textLength="23.81" lengthAdjust="spacingAndGlyphs">(n = 5)</text>
<text x="423.37" y="336.9" font-size="8.2" textLength="27.96" lengthAdjust="spacingAndGlyphs">Relapse</text>
<text x="425.51" y="346.2" font-size="7.8" textLength="23.29" lengthAdjust="spacingAndGlyphs">(n = 5)</text>
<text x="6.86" y="376.8" font-size="11.19" font-weight="bold" textLength="9.09" lengthAdjust="spacingAndGlyphs">H</text>
<text x="38.58" y="389.8" font-size="7.8" textLength="18.19" lengthAdjust="spacingAndGlyphs">CEM</text>
<text x="84.44" y="389.8" font-size="7.8" textLength="26.79" lengthAdjust="spacingAndGlyphs">MOLT4</text>
<text x="6.6" y="407.3" font-size="7.8" textLength="19.78" lengthAdjust="spacingAndGlyphs">36KD</text>
<text x="6.6" y="439.6" font-size="7.8" textLength="19.78" lengthAdjust="spacingAndGlyphs">37KD</text>
<text x="123.27" y="407.3" font-size="8.2" textLength="23.27" lengthAdjust="spacingAndGlyphs">WDR5</text>
<text x="123.59" y="439.4" font-size="8.6" textLength="28.87" lengthAdjust="spacingAndGlyphs">GAPDH</text>
<rect x="30.5" y="395.5" width="39" height="19" fill="none" stroke="#444" stroke-width="1"/>
<rect x="30.5" y="425.5" width="39" height="21" fill="none" stroke="#444" stroke-width="1"/>
<rect x="78.5" y="395.5" width="41" height="19" fill="none" stroke="#444" stroke-width="1"/>
<rect x="78.5" y="425.5" width="41" height="21" fill="none" stroke="#444" stroke-width="1"/>
<rect x="32.7" y="404.25" width="14.4" height="2.3" rx="1" fill="#1a1a1a" filter="url(#bl)"/>
<rect x="52.3" y="404.9" width="15" height="2" rx="1" fill="#b0b0b0" filter="url(#bl)"/>
<rect x="81.5" y="404.35" width="14.5" height="2.3" rx="1" fill="#1e1e1e" filter="url(#bl)"/>
<rect x="101.7" y="404.25" width="15" height="1.9" rx="1" fill="#b8b8b8" filter="url(#bl)"/>
<rect x="32.7" y="435.9" width="15" height="2.4" rx="1" fill="#222" filter="url(#bl)"/>
<rect x="52.9" y="436.35" width="14.6" height="2.3" rx="1" fill="#2e2e2e" filter="url(#bl)"/>
<rect x="81.5" y="435.55" width="15" height="2.3" rx="1" fill="#222" filter="url(#bl)"/>
<rect x="102.3" y="435.2" width="15" height="2.2" rx="1" fill="#3a3a3a" filter="url(#bl)"/>
<text transform="translate(45.6 454) rotate(-45)" font-size="8.4" text-anchor="end" textLength="20" lengthAdjust="spacingAndGlyphs">shNC</text>
<text transform="translate(69.8 454) rotate(-45)" font-size="8.4" text-anchor="end" textLength="31" lengthAdjust="spacingAndGlyphs">shWDR5</text>
<text transform="translate(94 454) rotate(-45)" font-size="8.4" text-anchor="end" textLength="20" lengthAdjust="spacingAndGlyphs">shNC</text>
<text transform="translate(118.3 454) rotate(-45)" font-size="8.4" text-anchor="end" textLength="31" lengthAdjust="spacingAndGlyphs">shWDR5</text>
<text x="160.73" y="376.7" font-size="11.92" font-weight="bold" textLength="4.44" lengthAdjust="spacingAndGlyphs">I</text>
<line x1="178.5" y1="481.3" x2="178.5" y2="390" stroke="#333" stroke-width="1.7"/>
<path d="M174.8 391.2L181.4 391.2L178.1 383.8Z" fill="#111"/>
<line x1="177.3" y1="480.5" x2="338" y2="480.5" stroke="#333" stroke-width="1.7"/>
<path d="M337.5 477.3L337.5 483.9L344.8 480.6Z" fill="#111"/>
<text transform="translate(175.6 459.06) rotate(-90)" x="0" y="0" font-size="9" textLength="54.05" lengthAdjust="spacingAndGlyphs">Number (×10<tspan dy="-3.2" font-size="6">2</tspan><tspan dy="3.2">)</tspan></text>
<text x="245.25" y="494.1" font-size="8.6" textLength="32.84" lengthAdjust="spacingAndGlyphs">PI (×10<tspan dy="-3.2" font-size="6">2</tspan><tspan dy="3.2">)</tspan></text>
<text x="216.23" y="388.6" font-size="8.9" textLength="24.14" lengthAdjust="spacingAndGlyphs">shNC</text>
<text x="289.33" y="388.8" font-size="8.9" textLength="10.2" lengthAdjust="spacingAndGlyphs">sh</text>
<text x="298.56" y="388.8" font-size="8.9" font-style="italic" textLength="28.51" lengthAdjust="spacingAndGlyphs">WDR5</text>
<defs><linearGradient id="rg" x1="0" y1="0" x2="0" y2="1"><stop offset="0" stop-color="#5a3a3a"/><stop offset="0.35" stop-color="#a01828"/><stop offset="1" stop-color="#c8102e"/></linearGradient><pattern id="hat" width="2.2" height="2.2" patternUnits="userSpaceOnUse" patternTransform="rotate(45)"><rect width="2.2" height="2.2" fill="#d6e4f4"/><line x1="0" y1="0" x2="0" y2="2.2" stroke="#b8b0d8" stroke-width="0.8"/></pattern><filter id="bl" x="-20%" y="-100%" width="140%" height="300%"><feGaussianBlur stdDeviation="0.45"/></filter></defs>
<line x1="199.5" y1="394.8" x2="199.5" y2="461.8" stroke="#222" stroke-width="1"/>
<line x1="196.8" y1="461.3" x2="199.6" y2="461.3" stroke="#222" stroke-width="0.8"/>
<line x1="198.6" y1="456.73" x2="199.6" y2="456.73" stroke="#222" stroke-width="0.8"/>
<line x1="198.6" y1="452.16" x2="199.6" y2="452.16" stroke="#222" stroke-width="0.8"/>
<line x1="198.6" y1="447.59" x2="199.6" y2="447.59" stroke="#222" stroke-width="0.8"/>
<line x1="198.6" y1="443.01" x2="199.6" y2="443.01" stroke="#222" stroke-width="0.8"/>
<line x1="198.6" y1="438.44" x2="199.6" y2="438.44" stroke="#222" stroke-width="0.8"/>
<line x1="198.6" y1="433.87" x2="199.6" y2="433.87" stroke="#222" stroke-width="0.8"/>
<line x1="196.8" y1="429.3" x2="199.6" y2="429.3" stroke="#222" stroke-width="0.8"/>
<line x1="198.6" y1="424.73" x2="199.6" y2="424.73" stroke="#222" stroke-width="0.8"/>
<line x1="198.6" y1="420.16" x2="199.6" y2="420.16" stroke="#222" stroke-width="0.8"/>
<line x1="198.6" y1="415.59" x2="199.6" y2="415.59" stroke="#222" stroke-width="0.8"/>
<line x1="198.6" y1="411.01" x2="199.6" y2="411.01" stroke="#222" stroke-width="0.8"/>
<line x1="198.6" y1="406.44" x2="199.6" y2="406.44" stroke="#222" stroke-width="0.8"/>
<line x1="198.6" y1="401.87" x2="199.6" y2="401.87" stroke="#222" stroke-width="0.8"/>
<line x1="196.8" y1="397.3" x2="199.6" y2="397.3" stroke="#222" stroke-width="0.8"/>
<text x="188.58" y="464.2" font-size="8.3" textLength="4.54" lengthAdjust="spacingAndGlyphs">0</text>
<text x="188.46" y="432.2" font-size="8.3" textLength="4.77" lengthAdjust="spacingAndGlyphs">7</text>
<text x="184.19" y="400.2" font-size="8.3" textLength="8.84" lengthAdjust="spacingAndGlyphs">14</text>
<line x1="199.1" y1="461.5" x2="257.6" y2="461.5" stroke="#222" stroke-width="1"/>
<line x1="199.6" y1="461.3" x2="199.6" y2="463.5" stroke="#222" stroke-width="0.8"/>
<line x1="203.29" y1="461.3" x2="203.29" y2="462.5" stroke="#222" stroke-width="0.8"/>
<line x1="206.98" y1="461.3" x2="206.98" y2="462.5" stroke="#222" stroke-width="0.8"/>
<line x1="210.67" y1="461.3" x2="210.67" y2="462.5" stroke="#222" stroke-width="0.8"/>
<line x1="214.36" y1="461.3" x2="214.36" y2="463.5" stroke="#222" stroke-width="0.8"/>
<line x1="218.05" y1="461.3" x2="218.05" y2="462.5" stroke="#222" stroke-width="0.8"/>
<line x1="221.74" y1="461.3" x2="221.74" y2="462.5" stroke="#222" stroke-width="0.8"/>
<line x1="225.43" y1="461.3" x2="225.43" y2="462.5" stroke="#222" stroke-width="0.8"/>
<line x1="229.12" y1="461.3" x2="229.12" y2="463.5" stroke="#222" stroke-width="0.8"/>
<line x1="232.81" y1="461.3" x2="232.81" y2="462.5" stroke="#222" stroke-width="0.8"/>
<line x1="236.5" y1="461.3" x2="236.5" y2="462.5" stroke="#222" stroke-width="0.8"/>
<line x1="240.19" y1="461.3" x2="240.19" y2="462.5" stroke="#222" stroke-width="0.8"/>
<line x1="243.88" y1="461.3" x2="243.88" y2="463.5" stroke="#222" stroke-width="0.8"/>
<line x1="247.57" y1="461.3" x2="247.57" y2="462.5" stroke="#222" stroke-width="0.8"/>
<line x1="251.26" y1="461.3" x2="251.26" y2="462.5" stroke="#222" stroke-width="0.8"/>
<line x1="254.95" y1="461.3" x2="254.95" y2="462.5" stroke="#222" stroke-width="0.8"/>
<text x="196.65" y="474.5" font-size="8" textLength="4.3" lengthAdjust="spacingAndGlyphs">0</text>
<text x="211.54" y="474.5" font-size="8" textLength="4.08" lengthAdjust="spacingAndGlyphs">4</text>
<text x="226.13" y="474.5" font-size="8" textLength="4.39" lengthAdjust="spacingAndGlyphs">8</text>
<text x="238.69" y="474.5" font-size="8" textLength="8.57" lengthAdjust="spacingAndGlyphs">12</text>
<path d="M216.4 461.3 L216.7 453.7 L228.75 453.7 L230.25 452.2 L232.75 461.3 L216.4 461.3 L216.4 461.3 Z" stroke="#9aa0b0" stroke-width="0.6" fill="url(#hat)"/>
<path d="M200.6 461.3 Q209 461.3 210 459.4" stroke="#aaa" stroke-width="0.6" fill="none"/>
<path d="M210 459.4 Q211 461.3 212.8 461" stroke="#aaa" stroke-width="0.6" fill="none"/>
<path d="M212.8 461.3 L214.4 402.5 Q215 431.3 216.4 461.3 Z" fill="url(#rg)"/>
<path d="M228.65 453.7 Q230.65 446.4 231.25 446.7 Q232.05 446.9 233.85 461.3" stroke="#a8a8b0" stroke-width="0.7" fill="none"/>
<path d="M228.85 461.3 Q230.35 451.9 231.25 451.9 Q232.15 451.9 233.65 461.3 Z" fill="#c0142e"/>
<text x="217.8" y="412.7" font-size="8" textLength="42.29" lengthAdjust="spacingAndGlyphs">G1: 35.21%</text>
<text x="220.21" y="422.4" font-size="8" textLength="5.96" lengthAdjust="spacingAndGlyphs">S:</text>
<text x="233.18" y="422.4" font-size="8" textLength="27.31" lengthAdjust="spacingAndGlyphs">55.13%</text>
<text x="217.8" y="431.2" font-size="8" textLength="37.69" lengthAdjust="spacingAndGlyphs">G2: 9.66%</text>
<line x1="279.5" y1="394.8" x2="279.5" y2="461.8" stroke="#222" stroke-width="1"/>
<line x1="276.6" y1="461.3" x2="279.4" y2="461.3" stroke="#222" stroke-width="0.8"/>
<line x1="278.4" y1="456.73" x2="279.4" y2="456.73" stroke="#222" stroke-width="0.8"/>
<line x1="278.4" y1="452.16" x2="279.4" y2="452.16" stroke="#222" stroke-width="0.8"/>
<line x1="278.4" y1="447.59" x2="279.4" y2="447.59" stroke="#222" stroke-width="0.8"/>
<line x1="278.4" y1="443.01" x2="279.4" y2="443.01" stroke="#222" stroke-width="0.8"/>
<line x1="278.4" y1="438.44" x2="279.4" y2="438.44" stroke="#222" stroke-width="0.8"/>
<line x1="278.4" y1="433.87" x2="279.4" y2="433.87" stroke="#222" stroke-width="0.8"/>
<line x1="276.6" y1="429.3" x2="279.4" y2="429.3" stroke="#222" stroke-width="0.8"/>
<line x1="278.4" y1="424.73" x2="279.4" y2="424.73" stroke="#222" stroke-width="0.8"/>
<line x1="278.4" y1="420.16" x2="279.4" y2="420.16" stroke="#222" stroke-width="0.8"/>
<line x1="278.4" y1="415.59" x2="279.4" y2="415.59" stroke="#222" stroke-width="0.8"/>
<line x1="278.4" y1="411.01" x2="279.4" y2="411.01" stroke="#222" stroke-width="0.8"/>
<line x1="278.4" y1="406.44" x2="279.4" y2="406.44" stroke="#222" stroke-width="0.8"/>
<line x1="278.4" y1="401.87" x2="279.4" y2="401.87" stroke="#222" stroke-width="0.8"/>
<line x1="276.6" y1="397.3" x2="279.4" y2="397.3" stroke="#222" stroke-width="0.8"/>
<text x="268.38" y="464.2" font-size="8.3" textLength="4.54" lengthAdjust="spacingAndGlyphs">0</text>
<text x="268.26" y="432.2" font-size="8.3" textLength="4.77" lengthAdjust="spacingAndGlyphs">7</text>
<text x="263.99" y="400.2" font-size="8.3" textLength="8.84" lengthAdjust="spacingAndGlyphs">14</text>
<line x1="278.9" y1="461.5" x2="337.4" y2="461.5" stroke="#222" stroke-width="1"/>
<line x1="279.4" y1="461.3" x2="279.4" y2="463.5" stroke="#222" stroke-width="0.8"/>
<line x1="283.09" y1="461.3" x2="283.09" y2="462.5" stroke="#222" stroke-width="0.8"/>
<line x1="286.78" y1="461.3" x2="286.78" y2="462.5" stroke="#222" stroke-width="0.8"/>
<line x1="290.47" y1="461.3" x2="290.47" y2="462.5" stroke="#222" stroke-width="0.8"/>
<line x1="294.16" y1="461.3" x2="294.16" y2="463.5" stroke="#222" stroke-width="0.8"/>
<line x1="297.85" y1="461.3" x2="297.85" y2="462.5" stroke="#222" stroke-width="0.8"/>
<line x1="301.54" y1="461.3" x2="301.54" y2="462.5" stroke="#222" stroke-width="0.8"/>
<line x1="305.23" y1="461.3" x2="305.23" y2="462.5" stroke="#222" stroke-width="0.8"/>
<line x1="308.92" y1="461.3" x2="308.92" y2="463.5" stroke="#222" stroke-width="0.8"/>
<line x1="312.61" y1="461.3" x2="312.61" y2="462.5" stroke="#222" stroke-width="0.8"/>
<line x1="316.3" y1="461.3" x2="316.3" y2="462.5" stroke="#222" stroke-width="0.8"/>
<line x1="319.99" y1="461.3" x2="319.99" y2="462.5" stroke="#222" stroke-width="0.8"/>
<line x1="323.68" y1="461.3" x2="323.68" y2="463.5" stroke="#222" stroke-width="0.8"/>
<line x1="327.37" y1="461.3" x2="327.37" y2="462.5" stroke="#222" stroke-width="0.8"/>
<line x1="331.06" y1="461.3" x2="331.06" y2="462.5" stroke="#222" stroke-width="0.8"/>
<line x1="334.75" y1="461.3" x2="334.75" y2="462.5" stroke="#222" stroke-width="0.8"/>
<text x="276.45" y="474.5" font-size="8" textLength="4.3" lengthAdjust="spacingAndGlyphs">0</text>
<text x="291.34" y="474.5" font-size="8" textLength="4.08" lengthAdjust="spacingAndGlyphs">4</text>
<text x="305.93" y="474.5" font-size="8" textLength="4.39" lengthAdjust="spacingAndGlyphs">8</text>
<text x="318.49" y="474.5" font-size="8" textLength="8.57" lengthAdjust="spacingAndGlyphs">12</text>
<path d="M295.75 461.3 L296.05 455.3 L307.5 455.3 L309 453.8 L311.5 461.3 L295.75 461.3 L295.75 461.3 Z" stroke="#9aa0b0" stroke-width="0.6" fill="url(#hat)"/>
<path d="M280.4 461.3 Q285.25 461.3 286.25 459.4" stroke="#aaa" stroke-width="0.6" fill="none"/>
<path d="M286.25 459.4 Q287.25 461.3 292.15 461" stroke="#aaa" stroke-width="0.6" fill="none"/>
<path d="M292.15 461.3 L293.75 399.75 Q294.35 431.3 295.75 461.3 Z" fill="url(#rg)"/>
<path d="M307.4 455.3 Q309.4 452 310 452.3 Q310.8 452.5 312.6 461.3" stroke="#a8a8b0" stroke-width="0.7" fill="none"/>
<path d="M307.6 461.3 Q309.1 457.5 310 457.5 Q310.9 457.5 312.4 461.3 Z" fill="#c0142e"/>
<text x="299.3" y="412.7" font-size="8" textLength="42.19" lengthAdjust="spacingAndGlyphs">G1: 50.88%</text>
<text x="301.71" y="422.4" font-size="8" textLength="5.96" lengthAdjust="spacingAndGlyphs">S:</text>
<text x="315.42" y="422.4" font-size="8" textLength="26.56" lengthAdjust="spacingAndGlyphs">44.90%</text>
<text x="299.3" y="431.2" font-size="8" textLength="37.58" lengthAdjust="spacingAndGlyphs">G2: 4.22%</text>
<text x="353.73" y="376.8" font-size="12.21" font-weight="bold" textLength="6.12" lengthAdjust="spacingAndGlyphs">J</text>
<line x1="387.5" y1="383.3" x2="387.5" y2="472" stroke="#231f20" stroke-width="1"/>
<line x1="384.7" y1="472.5" x2="387.5" y2="472.5" stroke="#231f20" stroke-width="1"/>
<text x="377.33" y="475.44" font-size="8.3" textLength="4.8" lengthAdjust="spacingAndGlyphs">0</text>
<line x1="384.7" y1="431.5" x2="387.5" y2="431.5" stroke="#231f20" stroke-width="1"/>
<text x="372.91" y="434.44" font-size="8.3" textLength="9.22" lengthAdjust="spacingAndGlyphs">50</text>
<line x1="384.7" y1="391.5" x2="387.5" y2="391.5" stroke="#231f20" stroke-width="1"/>
<text x="368.17" y="394.44" font-size="8.3" textLength="13.95" lengthAdjust="spacingAndGlyphs">100</text>
<rect x="395" y="391.45" width="14.4" height="52.08" fill="#afd4f3"/>
<rect x="395" y="443.53" width="14.4" height="28.67" fill="#a582ad"/>
<rect x="417.1" y="391.45" width="14.4" height="39.16" fill="#afd4f3"/>
<rect x="417.1" y="430.61" width="14.4" height="41.59" fill="#a582ad"/>
<line x1="387" y1="471.5" x2="440" y2="471.5" stroke="#231f20" stroke-width="1"/>
<line x1="402.5" y1="471.5" x2="402.5" y2="474" stroke="#231f20" stroke-width="1"/>
<line x1="424.5" y1="471.5" x2="424.5" y2="474" stroke="#231f20" stroke-width="1"/>
<line x1="402.2" y1="389.6" x2="402.2" y2="391.9" stroke="#231f20" stroke-width="0.8"/>
<line x1="399.2" y1="389.6" x2="405.2" y2="389.6" stroke="#231f20" stroke-width="0.8"/>
<line x1="402.2" y1="442.2" x2="402.2" y2="444.2" stroke="#231f20" stroke-width="0.8"/>
<line x1="399.2" y1="442.2" x2="405.2" y2="442.2" stroke="#231f20" stroke-width="0.8"/>
<line x1="424.3" y1="390.6" x2="424.3" y2="391.9" stroke="#231f20" stroke-width="0.8"/>
<line x1="421.3" y1="390.6" x2="427.3" y2="390.6" stroke="#231f20" stroke-width="0.8"/>
<line x1="424.3" y1="431" x2="424.3" y2="431.8" stroke="#231f20" stroke-width="0.8"/>
<line x1="421.3" y1="431" x2="427.3" y2="431" stroke="#231f20" stroke-width="0.8"/>
<path d="M402.5 380.6L402.5 377.5L424.5 377.5L424.5 380.6" stroke="#2a2a2a" stroke-width="1" fill="none"/>
<path d="M400.1 380.1L404.9 380.1L402.5 385.9Z" fill="#231f20"/>
<path d="M422.1 380.1L426.9 380.1L424.5 385.9Z" fill="#231f20"/>
<text x="409.8" y="377.01" font-size="6.6" font-weight="bold" text-anchor="middle" style="stroke-width:0.35px">*</text>
<text x="413.5" y="377.01" font-size="6.6" font-weight="bold" text-anchor="middle" style="stroke-width:0.35px">*</text>
<text x="417.2" y="377.01" font-size="6.6" font-weight="bold" text-anchor="middle" style="stroke-width:0.35px">*</text>
<rect x="443.2" y="448.5" width="6" height="5.5" fill="#a582ad"/>
<rect x="443.2" y="460.2" width="6" height="5.6" fill="#afd4f3"/>
<text x="452.23" y="453.9" font-size="7.8" textLength="21.18" lengthAdjust="spacingAndGlyphs">S+G2</text>
<text x="452.21" y="465.5" font-size="7.8" textLength="10.37" lengthAdjust="spacingAndGlyphs">G1</text>
<text transform="translate(361.1 453.71) rotate(-90)" x="0" y="0" font-size="8.6" textLength="51.98" lengthAdjust="spacingAndGlyphs">Percentage (%)</text>
<text transform="translate(405.6 481.8) rotate(-45)" font-size="8.4" text-anchor="end" textLength="20.5" lengthAdjust="spacingAndGlyphs">shNC</text>
<text transform="translate(428 481.8) rotate(-45)" font-size="8.4" text-anchor="end" textLength="32.5" lengthAdjust="spacingAndGlyphs">shWDR5</text>
<text x="6.89" y="524.1" font-size="11.63" font-weight="bold" textLength="8.22" lengthAdjust="spacingAndGlyphs">K</text>
<line x1="39.5" y1="538.6" x2="39.5" y2="637" stroke="#231f20" stroke-width="1"/>
<line x1="36.7" y1="637.5" x2="39.5" y2="637.5" stroke="#231f20" stroke-width="1"/>
<text x="29.31" y="640.3" font-size="7.9" textLength="4.83" lengthAdjust="spacingAndGlyphs">0</text>
<line x1="36.7" y1="617.5" x2="39.5" y2="617.5" stroke="#231f20" stroke-width="1"/>
<text x="20.11" y="620.3" font-size="7.9" textLength="14.02" lengthAdjust="spacingAndGlyphs">100</text>
<line x1="36.7" y1="598.5" x2="39.5" y2="598.5" stroke="#231f20" stroke-width="1"/>
<text x="20.33" y="601.3" font-size="7.9" textLength="13.79" lengthAdjust="spacingAndGlyphs">200</text>
<line x1="36.7" y1="579.5" x2="39.5" y2="579.5" stroke="#231f20" stroke-width="1"/>
<text x="20.44" y="582.3" font-size="7.9" textLength="13.68" lengthAdjust="spacingAndGlyphs">300</text>
<line x1="36.7" y1="560.5" x2="39.5" y2="560.5" stroke="#231f20" stroke-width="1"/>
<text x="20.56" y="563.3" font-size="7.9" textLength="13.55" lengthAdjust="spacingAndGlyphs">400</text>
<line x1="36.7" y1="541.5" x2="39.5" y2="541.5" stroke="#231f20" stroke-width="1"/>
<text x="20.42" y="544.3" font-size="7.9" textLength="13.7" lengthAdjust="spacingAndGlyphs">500</text>
<line x1="39" y1="636.5" x2="103.8" y2="636.5" stroke="#231f20" stroke-width="1"/>
<line x1="58.5" y1="636.5" x2="58.5" y2="639" stroke="#231f20" stroke-width="1"/>
<line x1="85.5" y1="636.5" x2="85.5" y2="639" stroke="#231f20" stroke-width="1"/>
<line x1="58.5" y1="561.9" x2="58.5" y2="590.4" stroke="#231f20" stroke-width="1"/>
<rect x="49.2" y="566.2" width="17.9" height="24.2" fill="#ec918a"/>
<line x1="53.55" y1="561.5" x2="62.75" y2="561.5" stroke="#231f20" stroke-width="1"/>
<line x1="53.55" y1="590.5" x2="62.75" y2="590.5" stroke="#231f20" stroke-width="1"/>
<line x1="49.2" y1="576.5" x2="67.1" y2="576.5" stroke="#4a1c1c" stroke-width="1"/>
<circle cx="58.1" cy="561.9" r="1.6" fill="#111"/>
<circle cx="56.5" cy="567.5" r="1.6" fill="#111"/>
<circle cx="60" cy="569.8" r="1.6" fill="#111"/>
<circle cx="58.1" cy="582.7" r="1.6" fill="#111"/>
<circle cx="56.2" cy="590.4" r="1.6" fill="#111"/>
<circle cx="60" cy="590.4" r="1.6" fill="#111"/>
<line x1="85.5" y1="599.4" x2="85.5" y2="613.5" stroke="#231f20" stroke-width="1"/>
<rect x="76.9" y="602.5" width="17.3" height="10.4" fill="#97a2cb"/>
<line x1="81.05" y1="599.5" x2="90.05" y2="599.5" stroke="#231f20" stroke-width="1"/>
<line x1="81.05" y1="613.5" x2="90.05" y2="613.5" stroke="#231f20" stroke-width="1"/>
<line x1="76.9" y1="607.5" x2="94.2" y2="607.5" stroke="#1c2444" stroke-width="1"/>
<circle cx="85.6" cy="599.4" r="1.6" fill="#111"/>
<circle cx="82.5" cy="602.8" r="1.6" fill="#111"/>
<circle cx="88.5" cy="603.7" r="1.6" fill="#111"/>
<circle cx="79.2" cy="612.1" r="1.6" fill="#111"/>
<circle cx="85.3" cy="612.9" r="1.6" fill="#111"/>
<circle cx="91.3" cy="612.9" r="1.6" fill="#111"/>
<path d="M58.5 545L58.5 537.5L85.5 537.5L85.5 585.1" stroke="#2a2a2a" stroke-width="1" fill="none"/>
<path d="M56.1 544.5L60.9 544.5L58.5 550.3Z" fill="#231f20"/>
<path d="M83.1 584.6L87.9 584.6L85.5 590.4Z" fill="#231f20"/>
<text x="68.2" y="536.21" font-size="6.6" font-weight="bold" text-anchor="middle" style="stroke-width:0.35px">*</text>
<text x="72" y="536.21" font-size="6.6" font-weight="bold" text-anchor="middle" style="stroke-width:0.35px">*</text>
<text x="75.8" y="536.21" font-size="6.6" font-weight="bold" text-anchor="middle" style="stroke-width:0.35px">*</text>
<text transform="translate(14.8 620.75) rotate(-90)" x="0" y="0" font-size="9" textLength="67.24" lengthAdjust="spacingAndGlyphs">Spleen weight (mg)</text>
<text transform="translate(61.8 646.8) rotate(-45)" font-size="8.4" text-anchor="end" textLength="20.5" lengthAdjust="spacingAndGlyphs">shNC</text>
<text transform="translate(88.2 646.8) rotate(-45)" font-size="8.4" text-anchor="end" textLength="32.5" lengthAdjust="spacingAndGlyphs">shWDR5</text>
<text x="113.14" y="524.2" font-size="11.92" font-weight="bold" textLength="6.9" lengthAdjust="spacingAndGlyphs">L</text>
<line x1="142.5" y1="541.2" x2="142.5" y2="638" stroke="#231f20" stroke-width="1"/>
<line x1="139.7" y1="637.5" x2="142.5" y2="637.5" stroke="#231f20" stroke-width="1"/>
<text x="131.46" y="640.34" font-size="8" textLength="4.89" lengthAdjust="spacingAndGlyphs">0</text>
<line x1="139.7" y1="615.5" x2="142.5" y2="615.5" stroke="#231f20" stroke-width="1"/>
<text x="126.87" y="618.34" font-size="8" textLength="9.46" lengthAdjust="spacingAndGlyphs">20</text>
<line x1="139.7" y1="594.5" x2="142.5" y2="594.5" stroke="#231f20" stroke-width="1"/>
<text x="127.11" y="597.34" font-size="8" textLength="9.21" lengthAdjust="spacingAndGlyphs">40</text>
<line x1="139.7" y1="573.5" x2="142.5" y2="573.5" stroke="#231f20" stroke-width="1"/>
<text x="126.87" y="576.34" font-size="8" textLength="9.46" lengthAdjust="spacingAndGlyphs">60</text>
<line x1="139.7" y1="552.5" x2="142.5" y2="552.5" stroke="#231f20" stroke-width="1"/>
<text x="126.93" y="555.34" font-size="8" textLength="9.4" lengthAdjust="spacingAndGlyphs">80</text>
<line x1="142" y1="637.5" x2="205.4" y2="637.5" stroke="#231f20" stroke-width="1"/>
<line x1="160.5" y1="637.5" x2="160.5" y2="640" stroke="#231f20" stroke-width="1"/>
<line x1="187.5" y1="637.5" x2="187.5" y2="640" stroke="#231f20" stroke-width="1"/>
<line x1="160.5" y1="556.5" x2="160.5" y2="569.5" stroke="#231f20" stroke-width="1"/>
<rect x="151.3" y="561.2" width="17.9" height="6.6" fill="#ec918a"/>
<line x1="155.75" y1="556.5" x2="164.75" y2="556.5" stroke="#231f20" stroke-width="1"/>
<line x1="155.75" y1="569.5" x2="164.75" y2="569.5" stroke="#231f20" stroke-width="1"/>
<line x1="151.3" y1="564.5" x2="169.2" y2="564.5" stroke="#4a1c1c" stroke-width="1"/>
<circle cx="160.2" cy="556.5" r="1.5" fill="#111"/>
<circle cx="153.7" cy="562.5" r="1.5" fill="#111"/>
<circle cx="160.2" cy="562.9" r="1.5" fill="#111"/>
<circle cx="166.3" cy="563.2" r="1.5" fill="#111"/>
<circle cx="157.1" cy="568.7" r="1.5" fill="#111"/>
<circle cx="163.2" cy="569.2" r="1.5" fill="#111"/>
<line x1="187.5" y1="581" x2="187.5" y2="600.2" stroke="#231f20" stroke-width="1"/>
<rect x="179" y="584.5" width="16.8" height="14.2" fill="#97a2cb"/>
<line x1="183.1" y1="581.5" x2="191.7" y2="581.5" stroke="#231f20" stroke-width="1"/>
<line x1="183.1" y1="600.5" x2="191.7" y2="600.5" stroke="#231f20" stroke-width="1"/>
<line x1="179" y1="590.5" x2="195.8" y2="590.5" stroke="#1c2444" stroke-width="1"/>
<circle cx="187.5" cy="581" r="1.5" fill="#111"/>
<circle cx="185.2" cy="585.4" r="1.5" fill="#111"/>
<circle cx="189.2" cy="586.5" r="1.5" fill="#111"/>
<circle cx="187.5" cy="594.4" r="1.5" fill="#111"/>
<circle cx="185.4" cy="598.3" r="1.5" fill="#111"/>
<circle cx="188.8" cy="598.7" r="1.5" fill="#111"/>
<path d="M160.5 545.8L160.5 540.5L187.5 540.5L187.5 569.1" stroke="#2a2a2a" stroke-width="1" fill="none"/>
<path d="M158.1 545.3L162.9 545.3L160.5 551.1Z" fill="#231f20"/>
<path d="M185.1 568.6L189.9 568.6L187.5 574.4Z" fill="#231f20"/>
<text x="170.35" y="539.11" font-size="6.6" font-weight="bold" text-anchor="middle" style="stroke-width:0.35px">*</text>
<text x="174" y="539.11" font-size="6.6" font-weight="bold" text-anchor="middle" style="stroke-width:0.35px">*</text>
<text x="177.65" y="539.11" font-size="6.6" font-weight="bold" text-anchor="middle" style="stroke-width:0.35px">*</text>
<text transform="translate(122.1 635.13) rotate(-90)" x="0" y="0" font-size="9" textLength="94.11" lengthAdjust="spacingAndGlyphs">Human CD45 in spleen (%)</text>
<text transform="translate(163.5 646.3) rotate(-45)" font-size="8.4" text-anchor="end" textLength="20.5" lengthAdjust="spacingAndGlyphs">shNC</text>
<text transform="translate(191.2 646.3) rotate(-45)" font-size="8.4" text-anchor="end" textLength="32.5" lengthAdjust="spacingAndGlyphs">shWDR5</text>
<line x1="242.5" y1="539" x2="242.5" y2="637" stroke="#231f20" stroke-width="1"/>
<line x1="239.7" y1="636.5" x2="242.5" y2="636.5" stroke="#231f20" stroke-width="1"/>
<text x="231.9" y="639.16" font-size="7.5" textLength="4.3" lengthAdjust="spacingAndGlyphs">0</text>
<line x1="239.7" y1="617.5" x2="242.5" y2="617.5" stroke="#231f20" stroke-width="1"/>
<text x="227.82" y="620.16" font-size="7.5" textLength="8.37" lengthAdjust="spacingAndGlyphs">20</text>
<line x1="239.7" y1="598.5" x2="242.5" y2="598.5" stroke="#231f20" stroke-width="1"/>
<text x="228.03" y="601.16" font-size="7.5" textLength="8.15" lengthAdjust="spacingAndGlyphs">40</text>
<line x1="239.7" y1="579.5" x2="242.5" y2="579.5" stroke="#231f20" stroke-width="1"/>
<text x="227.82" y="582.16" font-size="7.5" textLength="8.38" lengthAdjust="spacingAndGlyphs">60</text>
<line x1="239.7" y1="560.5" x2="242.5" y2="560.5" stroke="#231f20" stroke-width="1"/>
<text x="227.88" y="563.16" font-size="7.5" textLength="8.32" lengthAdjust="spacingAndGlyphs">80</text>
<line x1="239.7" y1="541.5" x2="242.5" y2="541.5" stroke="#231f20" stroke-width="1"/>
<text x="223.63" y="544.16" font-size="7.5" textLength="12.57" lengthAdjust="spacingAndGlyphs">100</text>
<line x1="242" y1="636.5" x2="306.5" y2="636.5" stroke="#231f20" stroke-width="1"/>
<line x1="261.5" y1="636.5" x2="261.5" y2="639" stroke="#231f20" stroke-width="1"/>
<line x1="288.5" y1="636.5" x2="288.5" y2="639" stroke="#231f20" stroke-width="1"/>
<line x1="260.5" y1="548.3" x2="260.5" y2="566.5" stroke="#231f20" stroke-width="1"/>
<rect x="251.9" y="554.4" width="17.9" height="5.4" fill="#ec918a"/>
<line x1="256.25" y1="548.5" x2="265.45" y2="548.5" stroke="#231f20" stroke-width="1"/>
<line x1="256.25" y1="566.5" x2="265.45" y2="566.5" stroke="#231f20" stroke-width="1"/>
<line x1="251.9" y1="555.5" x2="269.8" y2="555.5" stroke="#4a1c1c" stroke-width="1"/>
<circle cx="260.9" cy="548.3" r="1.5" fill="#111"/>
<circle cx="253.7" cy="554.8" r="1.5" fill="#111"/>
<circle cx="258.3" cy="554.8" r="1.5" fill="#111"/>
<circle cx="263.1" cy="554.8" r="1.5" fill="#111"/>
<circle cx="267.8" cy="558.2" r="1.5" fill="#111"/>
<circle cx="260.9" cy="566.5" r="1.5" fill="#111"/>
<line x1="288.5" y1="576.7" x2="288.5" y2="590.5" stroke="#231f20" stroke-width="1"/>
<rect x="280.2" y="578.1" width="16.5" height="8.6" fill="#97a2cb"/>
<line x1="284.35" y1="576.5" x2="292.55" y2="576.5" stroke="#231f20" stroke-width="1"/>
<line x1="284.35" y1="590.5" x2="292.55" y2="590.5" stroke="#231f20" stroke-width="1"/>
<line x1="280.2" y1="580.5" x2="296.7" y2="580.5" stroke="#1c2444" stroke-width="1"/>
<circle cx="286" cy="576.7" r="1.5" fill="#111"/>
<circle cx="290.6" cy="576.7" r="1.5" fill="#111"/>
<circle cx="288.3" cy="578.1" r="1.5" fill="#111"/>
<circle cx="290" cy="582.5" r="1.5" fill="#111"/>
<circle cx="286" cy="586.2" r="1.5" fill="#111"/>
<circle cx="290.6" cy="590.5" r="1.5" fill="#111"/>
<path d="M260.5 537.2L260.5 535.5L288.5 535.5L288.5 566.9" stroke="#2a2a2a" stroke-width="1" fill="none"/>
<path d="M258.1 536.7L262.9 536.7L260.5 542.5Z" fill="#231f20"/>
<path d="M286.1 566.4L290.9 566.4L288.5 572.2Z" fill="#231f20"/>
<text x="270.95" y="533.86" font-size="5.5" font-weight="bold" text-anchor="middle" style="stroke-width:0.35px">*</text>
<text x="274.5" y="533.86" font-size="5.5" font-weight="bold" text-anchor="middle" style="stroke-width:0.35px">*</text>
<text x="278.05" y="533.86" font-size="5.5" font-weight="bold" text-anchor="middle" style="stroke-width:0.35px">*</text>
<text transform="translate(218.7 628.73) rotate(-90)" x="0" y="0" font-size="9" textLength="82.61" lengthAdjust="spacingAndGlyphs">Human CD45 in BM (%)</text>
<text transform="translate(263.8 645.8) rotate(-45)" font-size="8.4" text-anchor="end" textLength="20.5" lengthAdjust="spacingAndGlyphs">shNC</text>
<text transform="translate(291.5 645.8) rotate(-45)" font-size="8.4" text-anchor="end" textLength="32.5" lengthAdjust="spacingAndGlyphs">shWDR5</text>
<text x="315.36" y="524.1" font-size="11.63" font-weight="bold" textLength="11.68" lengthAdjust="spacingAndGlyphs">M</text>
<line x1="342.5" y1="539.2" x2="342.5" y2="637" stroke="#231f20" stroke-width="1"/>
<line x1="339.7" y1="637.5" x2="342.5" y2="637.5" stroke="#231f20" stroke-width="1"/>
<text x="332.33" y="640.19" font-size="7.6" textLength="3.84" lengthAdjust="spacingAndGlyphs">0</text>
<line x1="339.7" y1="613.5" x2="342.5" y2="613.5" stroke="#231f20" stroke-width="1"/>
<text x="332.24" y="616.19" font-size="7.6" textLength="4.03" lengthAdjust="spacingAndGlyphs">2</text>
<line x1="339.7" y1="589.5" x2="342.5" y2="589.5" stroke="#231f20" stroke-width="1"/>
<text x="332.45" y="592.19" font-size="7.6" textLength="3.64" lengthAdjust="spacingAndGlyphs">4</text>
<line x1="339.7" y1="565.5" x2="342.5" y2="565.5" stroke="#231f20" stroke-width="1"/>
<text x="332.24" y="568.19" font-size="7.6" textLength="3.98" lengthAdjust="spacingAndGlyphs">6</text>
<line x1="339.7" y1="541.5" x2="342.5" y2="541.5" stroke="#231f20" stroke-width="1"/>
<text x="332.29" y="544.19" font-size="7.6" textLength="3.91" lengthAdjust="spacingAndGlyphs">8</text>
<line x1="342" y1="636.5" x2="407.2" y2="636.5" stroke="#231f20" stroke-width="1"/>
<line x1="361.5" y1="636.5" x2="361.5" y2="639" stroke="#231f20" stroke-width="1"/>
<line x1="388.5" y1="636.5" x2="388.5" y2="639" stroke="#231f20" stroke-width="1"/>
<line x1="361.5" y1="566.3" x2="361.5" y2="577.4" stroke="#231f20" stroke-width="1"/>
<rect x="352.8" y="571.2" width="17.4" height="4.8" fill="#ec918a"/>
<line x1="357.15" y1="566.5" x2="365.85" y2="566.5" stroke="#231f20" stroke-width="1"/>
<line x1="357.15" y1="577.5" x2="365.85" y2="577.5" stroke="#231f20" stroke-width="1"/>
<line x1="352.8" y1="574.5" x2="370.2" y2="574.5" stroke="#4a1c1c" stroke-width="1"/>
<circle cx="361.7" cy="566.3" r="1.5" fill="#111"/>
<circle cx="361.7" cy="572.1" r="1.5" fill="#111"/>
<circle cx="354" cy="574" r="1.5" fill="#111"/>
<circle cx="359.4" cy="575.2" r="1.5" fill="#111"/>
<circle cx="363.7" cy="577.2" r="1.5" fill="#111"/>
<circle cx="368.7" cy="577.2" r="1.5" fill="#111"/>
<line x1="389.5" y1="591.3" x2="389.5" y2="614.4" stroke="#231f20" stroke-width="1"/>
<rect x="380.2" y="600.2" width="17.6" height="14.2" fill="#97a2cb"/>
<line x1="384.5" y1="591.5" x2="393.5" y2="591.5" stroke="#231f20" stroke-width="1"/>
<line x1="384.5" y1="614.5" x2="393.5" y2="614.5" stroke="#231f20" stroke-width="1"/>
<line x1="380.2" y1="611.5" x2="397.8" y2="611.5" stroke="#1c2444" stroke-width="1"/>
<circle cx="389.1" cy="591.3" r="1.5" fill="#111"/>
<circle cx="389.1" cy="602.1" r="1.5" fill="#111"/>
<circle cx="389.1" cy="610.2" r="1.5" fill="#111"/>
<circle cx="382.5" cy="612.5" r="1.5" fill="#111"/>
<circle cx="389.1" cy="613.6" r="1.5" fill="#111"/>
<circle cx="394.8" cy="614.4" r="1.5" fill="#111"/>
<path d="M361.5 546.9L361.5 539.5L388.5 539.5L388.5 575.7" stroke="#2a2a2a" stroke-width="1" fill="none"/>
<path d="M359.1 546.4L363.9 546.4L361.5 552.2Z" fill="#231f20"/>
<path d="M386.1 575.2L390.9 575.2L388.5 581Z" fill="#231f20"/>
<text x="371.25" y="538.71" font-size="6.6" font-weight="bold" text-anchor="middle" style="stroke-width:0.35px">*</text>
<text x="375" y="538.71" font-size="6.6" font-weight="bold" text-anchor="middle" style="stroke-width:0.35px">*</text>
<text x="378.75" y="538.71" font-size="6.6" font-weight="bold" text-anchor="middle" style="stroke-width:0.35px">*</text>
<text transform="translate(327.7 633.93) rotate(-90)" x="0" y="0" font-size="9" textLength="92.41" lengthAdjust="spacingAndGlyphs">Human CD45 score (×10<tspan dy="-3.2" font-size="6">4</tspan><tspan dy="3.2">)</tspan></text>
<text transform="translate(364.5 647) rotate(-45)" font-size="8.4" text-anchor="end" textLength="20.5" lengthAdjust="spacingAndGlyphs">shNC</text>
<text transform="translate(392 647) rotate(-45)" font-size="8.4" text-anchor="end" textLength="32.5" lengthAdjust="spacingAndGlyphs">shWDR5</text>
</svg></body></html>
